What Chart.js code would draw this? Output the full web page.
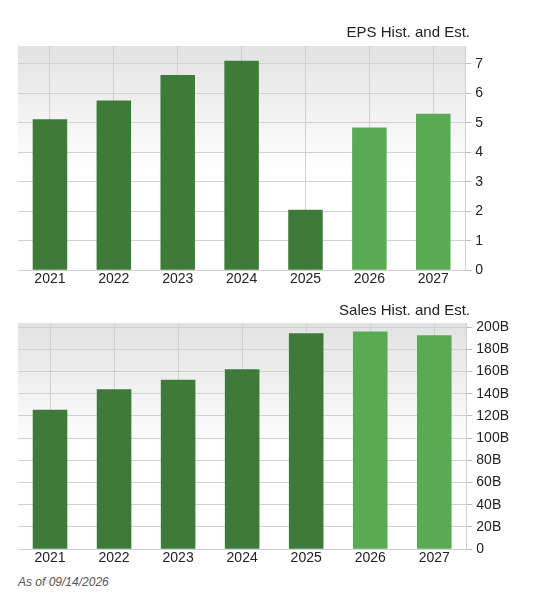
<!DOCTYPE html>
<html><head><meta charset="utf-8">
<script src="https://cdn.jsdelivr.net/npm/chart.js@4"></script>
<style>
body{margin:0;background:#fff;width:537px;height:606px;position:relative;font-family:"Liberation Sans",Arial,sans-serif}
.c{position:absolute;left:0;width:537px;height:270px}
.t{position:absolute;right:67px;font-size:15px;color:#222}
#note{position:absolute;left:18px;top:575px;font-size:12px;font-style:italic;color:#555}
</style></head><body>
<div class="c" style="top:19px"><canvas id="eps"></canvas></div>
<div class="c" style="top:298px"><canvas id="sales"></canvas></div>
<div class="t" style="top:23px">EPS Hist. and Est.</div>
<div class="t" style="top:301px">Sales Hist. and Est.</div>
<div id="note">As of 09/14/2026</div>
<script>
const years=["2021","2022","2023","2024","2025","2026","2027"];
const epsValues=[5.12,5.75,6.62,7.1,2.05,4.84,5.3];
const salesValues=[125.6,144,152.6,162,194.4,196,192.6];
const isEstimate=[false,false,false,false,false,true,true];
const histColor="#3e7a3a", estColor="#5aaa55";
const colors=isEstimate.map(e=>e?estColor:histColor);

const bgPlugin={id:'bg',beforeDraw(c){const a=c.chartArea,x=c.ctx;const g=x.createLinearGradient(0,a.top,0,a.bottom);
g.addColorStop(0,'#e2e2e2');g.addColorStop(0.55,'#ffffff');g.addColorStop(1,'#ffffff');x.save();x.fillStyle=g;x.fillRect(a.left,a.top,a.right-a.left,a.bottom-a.top);x.restore();}};

function make(id,data,max,step,fmt,padRight,padTop){
 new Chart(document.getElementById(id),{type:'bar',
  data:{labels:years,datasets:[{data:data,backgroundColor:colors,borderWidth:0,categoryPercentage:1,barPercentage:0.54}]},
  options:{responsive:true,maintainAspectRatio:false,animation:false,
   layout:{padding:{left:18,right:padRight,top:padTop,bottom:0}},
   plugins:{legend:{display:false},tooltip:{enabled:false}},
   scales:{
    x:{grid:{offset:false,color:'#d0d0d0',drawTicks:false},border:{color:'#cfcfcf'},
      ticks:{color:'#222',font:{size:14,family:'"Liberation Sans",Arial,sans-serif'},padding:1,maxRotation:0}},
    y:{position:'right',min:0,max:max,
      afterBuildTicks(s){const t=[];for(let v=0;v<=max+1e-9;v+=step)t.push({value:Math.round(v*1000)/1000});s.ticks=t;},
      grid:{color:'#d0d0d0',tickLength:6,tickColor:'#bbb'},border:{color:'#cfcfcf'},
      ticks:{color:'#222',padding:4,font:{size:14,family:'"Liberation Sans",Arial,sans-serif'},callback:fmt}}
   }},
  plugins:[bgPlugin]});
}
make('eps',epsValues,7.6,1,v=>v,50,27);
make('sales',salesValues,203.7,20,v=>v===0?'0':v+'B',24,25);
</script></body></html>
